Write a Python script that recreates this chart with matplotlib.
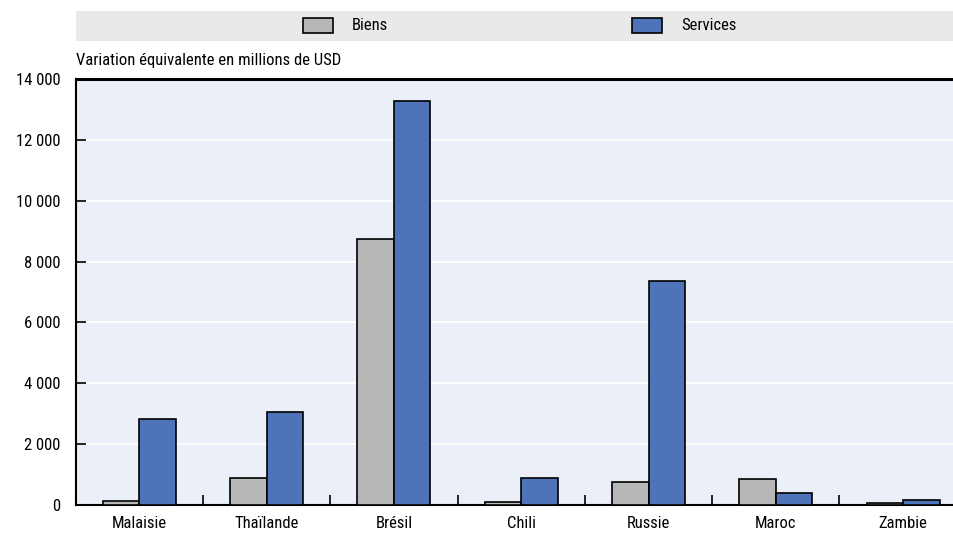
import matplotlib
matplotlib.use("Agg")
import matplotlib.pyplot as plt
from matplotlib import font_manager
from matplotlib.patches import Rectangle
from matplotlib.ticker import FuncFormatter, FixedLocator
import numpy as np

countries = ["Malaisie", "Thaïlande", "Brésil", "Chili", "Russie", "Maroc", "Zambie"]
biens = [130, 890, 8730, 100, 760, 860, 60]
services = [2830, 3060, 13280, 890, 7360, 390, 170]
series_names = ["Biens", "Services"]
y_ticks = [0, 2000, 4000, 6000, 8000, 10000, 12000, 14000]
y_title = "Variation équivalente en millions de USD"

# narrow font like the original, if installed
names = {f.name for f in font_manager.fontManager.ttflist}
for fam in ["Roboto Condensed", "Archivo Narrow", "PT Sans Narrow", "Liberation Sans"]:
    if fam in names:
        plt.rcParams["font.family"] = [fam, "DejaVu Sans"]
        break

W, H = 954, 534
grey = "#b7b7b7"
blue = "#4e73b8"
colors = [grey, blue]

fig = plt.figure(figsize=(W / 100, H / 100), dpi=100)

# size the text so the axis title is as wide as in the original (~262 px)
x0 = 75.7
t = fig.text(x0 / W, (H - 60) / H, y_title, fontsize=12, va="center", ha="left")
r = fig.canvas.get_renderer()
fs = 12 * 264 / t.get_window_extent(r).width
t.set_fontsize(fs)

# plot area (right side runs past the image edge like the original)
x1, yb, yt = 966.8, 505, 79
ax = fig.add_axes([x0 / W, (H - yb) / H, (x1 - x0) / W, (yb - yt) / H])
ax.set_facecolor("#ebf0f8")

x = np.arange(len(countries))
w = 0.287
ax.bar(x - w / 2, biens, w, color=grey, edgecolor="black", linewidth=1.2, zorder=3)
ax.bar(x + w / 2, services, w, color=blue, edgecolor="black", linewidth=1.2, zorder=3)

ax.set_xlim(-0.5, len(countries) - 0.5)
ax.set_ylim(0, 14000)
ax.set_yticks(y_ticks)
ax.yaxis.set_major_formatter(FuncFormatter(lambda v, p: f"{int(v):,}".replace(",", " ")))
ax.set_xticks(x)
ax.set_xticklabels(countries)
ax.xaxis.set_minor_locator(FixedLocator(x[:-1] + 0.5))

ax.tick_params(axis="x", which="major", length=0, pad=8, labelsize=fs)
ax.tick_params(axis="x", which="minor", direction="in", length=7, width=1.2)
ax.tick_params(axis="y", direction="in", length=7, width=1.2, pad=11, labelsize=fs)

ax.grid(axis="y", color="white", linewidth=1.3, zorder=0)
ax.set_axisbelow(True)

for s in ["left", "bottom"]:
    ax.spines[s].set_linewidth(1.5)
    ax.spines[s].set_color("black")
ax.spines["top"].set_linewidth(2.2)
ax.spines["top"].set_color("black")
ax.spines["right"].set_visible(False)

# legend band across the top
fig.patches.append(Rectangle((x0 / W, (H - 41) / H), (W - x0) / W, 30 / H,
                             transform=fig.transFigure, facecolor="#e9e9e9",
                             edgecolor="none", zorder=0))
patch_x = [303, 632]
for name, c, px in zip(series_names, colors, patch_x):
    fig.patches.append(Rectangle((px / W, (H - 33) / H), 30 / W, 15 / H,
                                 transform=fig.transFigure, facecolor=c,
                                 edgecolor="black", linewidth=1.2, zorder=1))
    fig.text((px + 49) / W, (H - 26) / H, name, fontsize=fs, va="center", ha="left")

fig.savefig("out.png", dpi=100)
